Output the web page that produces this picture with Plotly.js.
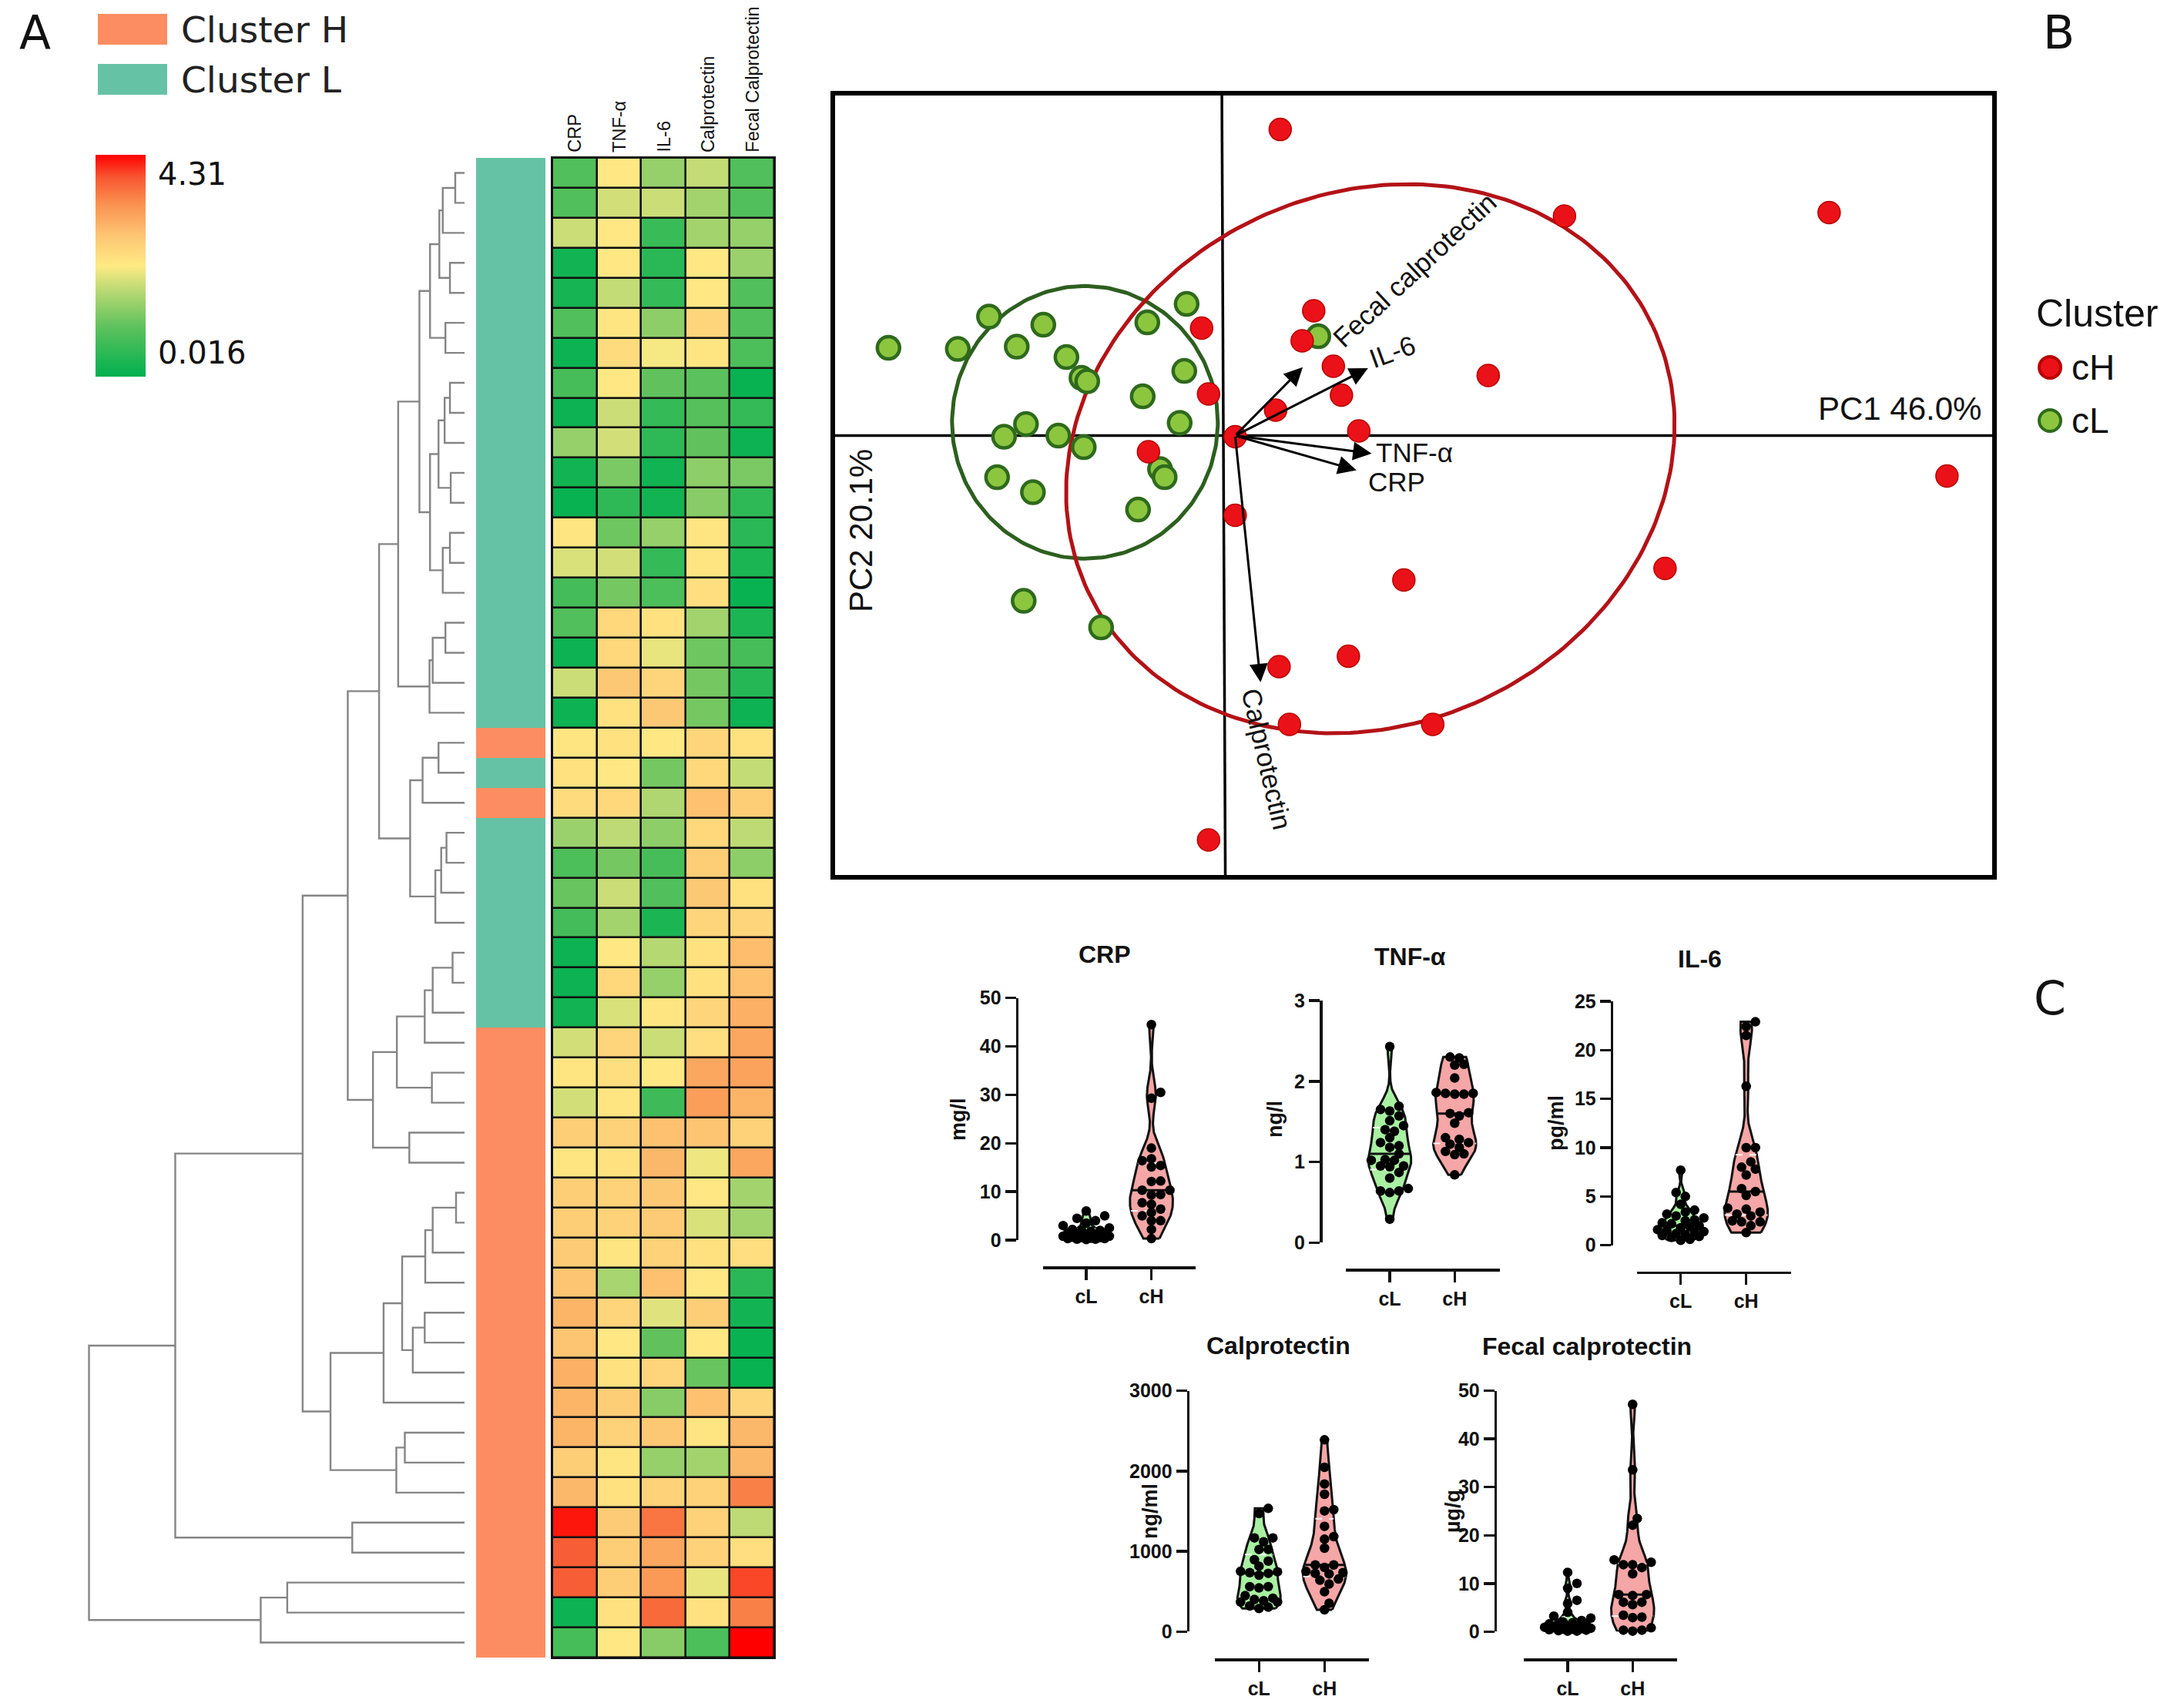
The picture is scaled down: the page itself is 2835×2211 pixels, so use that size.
<!DOCTYPE html>
<html><head><meta charset="utf-8">
<script src="https://cdn.plot.ly/plotly-3.0.1.min.js"></script>
<style>html,body{margin:0;padding:0;background:#fff}#chart{width:2835px;height:2211px}</style>
</head><body><div id="chart"></div>
<script>
// ================= DATA =================
// Heatmap (rows top→bottom, 50 patients)
const heatColumns = ['CRP','TNF-α','IL-6','Calprotectin','Fecal Calprotectin'];
const heatMin = 0.016, heatMax = 4.31;
const clusterSide = ['L','L','L','L','L','L','L','L','L','L','L','L','L','L','L','L','L','L','L','H',
 'L','H','L','L','L','L','L','L','L','H','H','H','H','H','H','H','H','H','H','H',
 'H','H','H','H','H','H','H','H','H','H'];
const heatCRP = [0.85,0.85,1.8,0.2,0.25,0.85,0.15,0.75,0.15,1.4, 0.2,0.1,2.25,1.9,0.7,0.85,0.15,1.8,0.15,2.25,
 2.3,2.4,1.45,0.8,1.05,0.7,0.15,0.15,0.2,1.85, 2.25,1.85,2.6,2.25,2.6,2.6,2.65,2.75,2.95,2.75,
 3.0,2.95,2.95,2.6,2.9,4.2,3.8,3.8,0.15,0.75];
const heatTNF = [2.2,1.85,2.2,2.2,1.75,2.25,2.4,2.2,1.8,1.85, 1.2,0.5,1.1,1.85,1.15,2.45,2.45,2.7,2.3,2.3,
 2.2,2.45,1.7,1.15,1.8,1.5,2.2,2.45,1.9,2.5, 2.35,2.25,2.55,2.3,2.55,2.55,2.25,1.55,2.5,2.2,
 2.3,2.6,2.55,2.25,2.3,2.65,2.6,2.6,2.3,2.2];
const heatIL6 = [1.4,1.8,0.6,0.45,0.55,1.35,2.1,1.0,0.55,0.5, 0.2,0.2,1.4,0.55,0.8,2.3,2.0,2.5,2.7,2.2,
 1.15,1.6,1.35,0.75,0.85,0.3,1.65,1.4,2.25,1.8, 2.2,0.65,2.8,2.9,2.7,2.65,2.55,2.8,1.95,1.0,
 2.5,1.3,2.7,1.4,2.55,3.6,3.1,3.25,3.7,1.3];
const heatCalp = [1.75,1.5,1.5,2.2,2.2,2.5,2.25,0.95,0.9,1.0, 1.35,1.3,2.25,2.25,2.35,1.5,1.1,1.15,1.15,2.5,
 2.45,2.8,2.45,2.6,2.7,2.5,2.3,2.3,2.5,2.35, 3.1,3.2,2.75,2.05,2.2,1.9,2.3,2.2,2.6,2.2,
 1.05,2.8,2.25,1.5,2.55,2.55,2.55,2.0,2.3,0.8];
const heatFecal = [0.85,0.85,1.4,1.45,0.85,0.85,0.8,0.1,0.55,0.15, 1.2,0.5,0.45,0.3,0.1,0.3,0.75,0.4,0.15,2.3,
 1.75,2.6,1.7,1.35,2.3,2.5,2.85,2.8,3.0,3.1, 3.15,2.95,2.55,3.1,1.5,1.5,2.35,0.45,0.2,0.1,
 0.1,2.5,2.9,2.9,3.5,1.7,2.35,3.95,3.5,4.31];

// Dendrogram linkage: [a, b, height]; positive = leaf row (1..50), negative = -(merge index + 1)
const linkage = [
 [1,2,35],[-1,3,82],[4,5,55],[-2,-3,95],[6,7,72],[-4,-5,130],[8,9,55],[-7,10,75],[11,12,52],[-8,-9,98],
 [13,14,55],[-11,15,82],[-10,-12,130],[-6,-13,170],[16,17,72],[-15,18,120],[-16,19,132],[-14,-17,250],
 [20,21,98],[-19,22,158],[23,24,68],[-21,25,88],[-22,26,110],[-20,-23,205],[-18,-24,322],
 [27,28,45],[-26,29,120],[-27,30,150],[31,32,123],[-28,-29,255],[33,34,208],[-30,-31,345],[-25,-32,440],
 [35,36,32],[-34,37,120],[-35,38,148],[39,40,150],[-37,41,195],[-36,-38,235],[-39,42,305],
 [43,44,225],[-41,45,257],[-40,-42,505],[-33,-43,610],[46,47,423],[-44,-45,1090],
 [48,49,668],[-47,50,768],[-46,-48,1415]];

// PCA scores
const pcaX_cL = [-2.90,-2.30,-2.03,-1.79,-1.56,-1.36,-1.23,-1.18,-0.66,-0.32,-0.34,-0.70,-0.38,-1.71,-1.90,-1.43,-1.21,-1.96,-1.65,-0.55,-0.51,-0.74,-1.73,-1.06,0.82];
const pcaY_cL = [0.76,0.75,1.03,0.77,0.96,0.68,0.50,0.47,0.98,1.14,0.56,0.34,0.11,0.10,-0.01,0.00,-0.10,-0.36,-0.49,-0.29,-0.36,-0.64,-1.43,-1.66,0.86];
const pcaX_cH = [0.49,2.95,0.78,0.68,-0.19,0.95,2.29,-0.13,1.02,0.45,1.17,0.10,-0.65,0.10,1.56,1.08,0.48,0.57,1.81,-0.13,5.24,6.26,3.82];
const pcaY_cH = [2.65,1.90,1.08,0.82,0.93,0.60,0.52,0.36,0.35,0.22,0.04,-0.01,-0.14,-0.69,-1.25,-1.91,-2.00,-2.50,-2.50,-3.50,1.93,-0.35,-1.15];
// Loadings (arrows)
const loadNames = ['CRP','TNF-α','IL-6','Calprotectin','Fecal calprotectin'];
const loadX = [1.15,1.28,1.25,0.32,0.685];
const loadY = [-0.30,-0.155,0.584,-2.135,0.592];
// Confidence ellipses: centre, semi-axes, angle (deg)
const ellipseL = {center:[-1.20,0.115], axes:[1.15,1.18], angle:0};
const ellipseH = {center:[1.27,-0.20], axes:[2.70,2.30], angle:25};

// Violin plot data
const crp_cL = [6.0,5.0,4.5,4.0,3.5,3.0,2.5,2.2,2.0,2.0,1.8,1.5,1.5,1.2,1.0,1.0,0.8,0.8,0.6,0.5,0.5,0.4,0.3,0.3,0.2,0.2,0.1];
const crp_cH = [44.5,30.5,29.3,19.0,16.8,16.4,15.4,15.1,12.2,12.1,10.3,10.3,9.3,9.4,7.7,7.4,6.4,5.7,5.0,4.0,4.0,2.2,0.3];
const tnf_cL = [2.43,1.65,1.69,1.63,1.57,1.51,1.45,1.38,1.40,1.30,1.24,1.18,1.20,1.10,1.03,1.02,1.02,0.95,0.94,0.95,0.87,0.80,0.67,0.64,0.64,0.62,0.29];
const tnf_cH = [2.29,2.30,2.20,2.21,2.04,1.85,1.86,1.84,1.85,1.84,1.61,1.60,1.57,1.48,1.30,1.28,1.24,1.22,1.18,1.13,1.09,1.10,0.84];
const il6_cL = [7.7,5.4,5.0,4.2,3.6,3.4,3.2,3.0,2.8,2.6,2.5,2.3,2.2,2.0,1.9,1.8,1.6,1.5,1.4,1.3,1.2,1.1,1.0,0.9,0.8,0.6,0.5];
const il6_cH = [22.9,22.4,21.5,16.3,10.0,10.0,8.55,8.0,7.2,7.8,5.8,5.5,5.1,3.7,3.8,3.2,3.0,3.4,2.4,2.5,2.4,2.0,1.3];
const calp_cL = [1535,1471,1167,1167,1119,1023,1023,895,879,815,751,745,735,726,703,560,560,544,448,416,400,384,368,368,320,304,288];
const calp_cH = [2389,2047,1839,1711,1503,1519,1311,1183,1151,1039,831,831,799,751,719,735,726,655,640,592,496,352,272];
const fecal_cL = [12.3,10.0,9.0,6.5,5.8,4.0,3.2,2.8,2.3,2.0,1.8,1.6,1.5,1.3,1.2,1.0,0.9,0.8,0.7,0.6,0.5,0.5,0.4,0.3,0.2,0.1,0.1];
const fecal_cH = [47.2,33.6,23.5,22.1,13.9,14.9,13.3,13.9,12.0,14.4,7.7,7.5,7.7,6.1,5.6,6.1,2.9,3.4,3.0,0.8,0.1,0.3,0.3];
const groupLabels = ['cL','cH'];

// ================= LAYOUT HELPERS =================
const W = 2835, H = 2211;
const PX = x => x / W, PY = y => 1 - y / H;
const traces = [], shapes = [], annotations = [];
const layout = {width:W, height:H, margin:{l:0,r:0,t:0,b:0}, paper_bgcolor:'#ffffff', plot_bgcolor:'rgba(0,0,0,0)',
  showlegend:false, shapes, annotations};
const hid = (domain, range, anchor) => ({domain, range, anchor, visible:false, fixedrange:true, showgrid:false, zeroline:false});
const SANS = 'Liberation Sans, Arial, sans-serif';
const DEJA = 'DejaVu Sans, Verdana, sans-serif';
// paper-referenced text helper (explicit anchors)
function label(x, y, text, font, extra){
  annotations.push(Object.assign({xref:'paper', yref:'paper', x:PX(x), y:PY(y), xanchor:'center', yanchor:'middle',
    showarrow:false, text, font}, extra || {}));
}

// ================= PANEL A =================
const rowY = clusterSide.map((_, i) => i + 1);
const rowDomain = [PY(2152), PY(205)];
layout.xaxis = hid([PX(112), PX(606)], [1425.2, -8.7], 'y');
layout.yaxis = hid(rowDomain, [50.5, 0.5], 'x');
layout.xaxis2 = hid([PX(618), PX(708)], [-0.5, 0.5], 'y2');
layout.yaxis2 = hid(rowDomain, [50.5, 0.5], 'x2');
layout.xaxis3 = hid([PX(717), PX(1005)], [0.5, 5.5], 'y3');
layout.yaxis3 = hid(rowDomain, [50.5, 0.5], 'x3');

// dendrogram
(function(){
  const nodeY = [], nodeH = [];
  const pos = id => id > 0 ? {y:id, h:0} : {y:nodeY[-id-1], h:nodeH[-id-1]};
  const xs = [], ys = [];
  linkage.forEach((m, k) => {
    const a = pos(m[0]), b = pos(m[1]), h = m[2];
    xs.push(a.h, h, h, b.h, null); ys.push(a.y, a.y, b.y, b.y, null);
    nodeY[k] = (a.y + b.y) / 2; nodeH[k] = h;
  });
  traces.push({type:'scatter', mode:'lines', x:xs, y:ys, xaxis:'x', yaxis:'y',
    line:{color:'#858585', width:2.4}, hoverinfo:'skip'});
})();

// cluster side bar
traces.push({type:'heatmap', xaxis:'x2', yaxis:'y2', x:[0], y:rowY,
  z: clusterSide.map(c => [c === 'H' ? 1 : 0]), zmin:0, zmax:1, showscale:false,
  colorscale:[[0,'#66c2a5'],[0.5,'#66c2a5'],[0.5,'#fc8d62'],[1,'#fc8d62']], hoverinfo:'skip'});

// main heatmap
const heatScale = [[0,'#00b050'],[0.22,'#5cc15c'],[0.38,'#b5d872'],[0.5,'#ffea84'],[0.64,'#fdc472'],
  [0.78,'#fa9050'],[0.9,'#f85530'],[1,'#ff0000']];
shapes.push({type:'rect', xref:'paper', yref:'paper', x0:PX(715), x1:PX(1007), y0:PY(2154), y1:PY(203),
  fillcolor:'#111', line:{width:0}, layer:'below'});
traces.push({type:'heatmap', xaxis:'x3', yaxis:'y3', x:[1,2,3,4,5], y:rowY,
  z: rowY.map((_, i) => [heatCRP[i], heatTNF[i], heatIL6[i], heatCalp[i], heatFecal[i]]),
  zmin:heatMin, zmax:heatMax, colorscale:heatScale, xgap:2.6, ygap:2.6, hoverinfo:'skip',
  colorbar:{x:PX(124), xanchor:'left', y:PY(201.5), yanchor:'top', len:288, lenmode:'pixels',
    thickness:65, thicknessmode:'pixels', outlinewidth:0, showticklabels:false, ticks:'', xpad:0, ypad:0}});
label(203, 226, String(heatMax), {family:DEJA, size:40, color:'#111'}, {xanchor:'left'});
label(203, 458, String(heatMin), {family:DEJA, size:40, color:'#111'}, {xanchor:'left'});
heatColumns.forEach((c, i) => label(717 + 57.6 * (i + 0.5), 200, c, {family:SANS, size:23.5, color:'#111'},
  {yanchor:'bottom', textangle:-90}));

// cluster legend
[['Cluster H','#fc8d62',18],['Cluster L','#66c2a5',83]].forEach(([t, col, y0]) => {
  shapes.push({type:'rect', xref:'paper', yref:'paper', x0:PX(127), x1:PX(217), y0:PY(y0 + 40), y1:PY(y0), fillcolor:col, line:{width:0}});
  label(233, y0 + 20, t, {family:DEJA, size:47, color:'#222'}, {xanchor:'left'});
});

// ================= PANEL B (PCA) =================
layout.xaxis4 = hid([PX(1081), PX(2589)], [-3.382, 6.671], 'y4');
layout.yaxis4 = hid([PY(1139), PY(121)], [-3.823, 2.964], 'x4');
shapes.push({type:'line', xref:'x4', yref:'y4', x0:-3.382, x1:6.671, y0:0, y1:0, line:{color:'#000', width:3.5}, layer:'below'});
shapes.push({type:'line', xref:'x4', yref:'y4', x0:-0.015, x1:0.015, y0:2.964, y1:-3.823, line:{color:'#000', width:3.5}, layer:'below'});
shapes.push({type:'rect', xref:'paper', yref:'paper', x0:PX(1081), x1:PX(2589), y0:PY(1139), y1:PY(121), line:{color:'#000', width:6}});
function ellipsePath(e){
  const xs = [], ys = [], t = e.angle * Math.PI / 180;
  for (let i = 0; i <= 240; i++) {
    const p = 2 * Math.PI * i / 240, u = e.axes[0] * Math.cos(p), v = e.axes[1] * Math.sin(p);
    xs.push(e.center[0] + u * Math.cos(t) - v * Math.sin(t)); ys.push(e.center[1] + u * Math.sin(t) + v * Math.cos(t));
  }
  return {xs, ys};
}
const eL = ellipsePath(ellipseL), eH = ellipsePath(ellipseH);
traces.push({type:'scatter', mode:'lines', x:eL.xs, y:eL.ys, xaxis:'x4', yaxis:'y4', line:{color:'#2d5f1f', width:5}, hoverinfo:'skip'});
traces.push({type:'scatter', mode:'lines', x:eH.xs, y:eH.ys, xaxis:'x4', yaxis:'y4', line:{color:'#b31217', width:5}, hoverinfo:'skip'});
traces.push({type:'scatter', mode:'markers', x:pcaX_cL, y:pcaY_cL, xaxis:'x4', yaxis:'y4', cliponaxis:false,
  marker:{size:29, color:'#8cc63f', line:{color:'#2e6a1c', width:4.5}}, hoverinfo:'skip'});
traces.push({type:'scatter', mode:'markers', x:pcaX_cH, y:pcaY_cH, xaxis:'x4', yaxis:'y4', cliponaxis:false,
  marker:{size:29, color:'#ea1218', line:{color:'#b80000', width:1.5}}, hoverinfo:'skip'});
loadX.forEach((x, i) => annotations.push({xref:'x4', yref:'y4', axref:'x4', ayref:'y4', x, y:loadY[i], ax:0.1, ay:0,
  showarrow:true, arrowhead:2, arrowsize:1.6, arrowwidth:3, arrowcolor:'#000', text:''}));
const loadLabelPos = [[1.50,-0.40,0],[1.65,-0.146,0],[1.46,0.73,-20],[0.374,-2.80,77],[1.65,1.435,-43]];
loadNames.forEach((n, i) => annotations.push({xref:'x4', yref:'y4', x:loadLabelPos[i][0], y:loadLabelPos[i][1],
  xanchor:'center', yanchor:'middle', textangle:loadLabelPos[i][2], showarrow:false, text:n, font:{family:SANS, size:35, color:'#111'}}));
label(2466, 530, 'PC1 46.0%', {family:SANS, size:42, color:'#111'});
label(1117, 689, 'PC2 20.1%', {family:SANS, size:42, color:'#111'}, {textangle:-90});
label(2641, 407, 'Cluster', {family:SANS, size:50, color:'#111'}, {xanchor:'left'});
[['cH','#ea1218','#b80000',477],['cL','#8cc63f','#2e6a1c',546]].forEach(([t, f, l, y]) => {
  shapes.push({type:'circle', xref:'paper', yref:'paper', x0:PX(2647), x1:PX(2675), y0:PY(y + 14), y1:PY(y - 14), fillcolor:f, line:{color:l, width:4}});
  label(2687, y, t, {family:SANS, size:46, color:'#111'}, {xanchor:'left'});
});

// ================= PANEL C (violins) =================
function quantile(a, q){ const s = [...a].sort((x, y) => x - y), p = (s.length - 1) * q, lo = Math.floor(p), hi = Math.ceil(p); return s[lo] + (s[hi] - s[lo]) * (p - lo); }
function bandwidth(v){
  const m = v.reduce((s, x) => s + x, 0) / v.length;
  const sd = Math.sqrt(v.reduce((s, x) => s + (x - m) * (x - m), 0) / (v.length - 1));
  const iqr = quantile(v, 0.75) - quantile(v, 0.25);
  return 0.72 * 1.06 * Math.min(sd, iqr > 0 ? iqr / 1.34 : sd) * Math.pow(v.length, -0.2);
}
function dens(v, bw, y){ let s = 0; v.forEach(x => { const z = (y - x) / bw; s += Math.exp(-0.5 * z * z); }); return s; }
function swarm(v, pyu, pxu, d, cap){
  const idx = v.map((_, i) => i).sort((a, b) => v[a] - v[b]), placed = [], off = new Array(v.length).fill(0);
  for (const i of idx) {
    const y = v[i] * pyu; let best = null, bestD = -1;
    for (let k = 0; k < 40; k++) {
      const o = k === 0 ? 0 : (k % 2 ? 1 : -1) * Math.ceil(k / 2) * d * 0.5;
      if (Math.abs(o) > cap) continue;
      let mn = Infinity;
      placed.forEach(p => { const dd = Math.hypot(p.x - o, p.y - y); if (dd < mn) mn = dd; });
      if (mn >= d * 0.85) { best = o; break; }
      if (mn > bestD) { bestD = mn; best = o; }
    }
    placed.push({x:best, y}); off[i] = best / pxu;
  }
  return off;
}
const violinPanels = [
  {title:'CRP', unit:'mg/l', data:[crp_cL, crp_cH], ymax:50, dtick:10, yAxisX:1319.6, yTop:1295.7, yBot:1610, xL:1353.6, xR:1551.8, cLpx:1410, cHpx:1494.6, xLineY:1645, tx:1434, ty:1239, lx:1244, ly:1453},
  {title:'TNF-α', unit:'ng/l', data:[tnf_cL, tnf_cH], ymax:3, dtick:1, yAxisX:1714, yTop:1299, yBot:1613.3, xL:1746.7, xR:1946.7, cLpx:1804, cHpx:1888.3, xLineY:1648.3, tx:1830, ty:1241.7, lx:1655, ly:1453},
  {title:'IL-6', unit:'pg/ml', data:[il6_cL, il6_cH], ymax:25, dtick:5, yAxisX:2091.7, yTop:1300, yBot:1616.7, xL:2125, xR:2325, cLpx:2181.7, cHpx:2266.7, xLineY:1651.7, tx:2206.7, ty:1245, lx:2020, ly:1458},
  {title:'Calprotectin', unit:'ng/ml', data:[calp_cL, calp_cH], ymax:3000, dtick:1000, yAxisX:1541.7, yTop:1805.7, yBot:2118.3, xL:1577.3, xR:1777.3, cLpx:1634.3, cHpx:1719.3, xLineY:2154.3, tx:1659.3, ty:1747.3, lx:1493, ly:1962},
  {title:'Fecal calprotectin', unit:'µg/g', data:[fecal_cL, fecal_cH], ymax:50, dtick:10, yAxisX:1940.7, yTop:1805.7, yBot:2118.3, xL:1978.3, xR:2176.7, cLpx:2035, cHpx:2119.3, xLineY:2154.3, tx:2060, ty:1748, lx:1886, ly:1962}
];
const violinFill = ['#a9f0a2','#f5a6a6'];
const tickFont = {family:SANS, size:25, color:'#111', weight:700};
violinPanels.forEach((p, k) => {
  const n = k + 5, xa = 'x' + n, ya = 'y' + n, sp = p.cHpx - p.cLpx;
  layout['xaxis' + n] = {domain:[PX(p.xL), PX(p.xR)], range:[(p.xL - p.cLpx) / sp, (p.xR - p.cLpx) / sp], anchor:'free', position:PY(p.xLineY),
    showline:true, linewidth:3.5, linecolor:'#111', ticks:'outside', ticklen:14, tickwidth:3.5, tickcolor:'#111',
    tickvals:[0, 1], ticktext:groupLabels, tickfont:tickFont, showgrid:false, zeroline:false, fixedrange:true};
  layout['yaxis' + n] = {domain:[PY(p.yBot), PY(p.yTop)], range:[0, p.ymax], anchor:'free', position:PX(p.yAxisX),
    showline:true, linewidth:3.5, linecolor:'#111', ticks:'outside', ticklen:14, tickwidth:3.5, tickcolor:'#111',
    tick0:0, dtick:p.dtick, tickfont:tickFont, showgrid:false, zeroline:false, fixedrange:true};
  const pyu = (p.yBot - p.yTop) / p.ymax;
  p.data.forEach((v, g) => {
    const bw = bandwidth(v), lo = Math.min(...v), hi = Math.max(...v), N = 180, ys = [], ds = [];
    for (let i = 0; i <= N; i++) { const y = lo + (hi - lo) * i / N; ys.push(y); ds.push(dens(v, bw, y)); }
    const mx = Math.max(...ds), half = 0.33, wAt = y => half * dens(v, bw, y) / mx;
    const X = ys.map((y, i) => g + half * ds[i] / mx).concat(ys.slice().reverse().map((y, i) => g - half * ds[N - i] / mx));
    const Y = ys.concat(ys.slice().reverse());
    X.push(X[0]); Y.push(Y[0]);
    traces.push({type:'scatter', mode:'lines', x:X, y:Y, xaxis:xa, yaxis:ya, fill:'toself', fillcolor:violinFill[g],
      line:{color:'#111', width:3}, hoverinfo:'skip'});
    [0.25, 0.75].forEach(q => { const y = quantile(v, q), w = wAt(y);
      traces.push({type:'scatter', mode:'lines', x:[g - w, g + w], y:[y, y], xaxis:xa, yaxis:ya,
        line:{color:'rgba(255,255,255,0.9)', width:2, dash:'dash'}, hoverinfo:'skip'}); });
    const med = quantile(v, 0.5), wm = wAt(med);
    traces.push({type:'scatter', mode:'lines', x:[g - wm, g + wm], y:[med, med], xaxis:xa, yaxis:ya,
      line:{color:'#111', width:3}, hoverinfo:'skip'});
    const off = swarm(v, pyu, sp, 12, 34);
    traces.push({type:'scatter', mode:'markers', x:v.map((_, i) => g + off[i]), y:v, xaxis:xa, yaxis:ya, cliponaxis:false,
      marker:{size:12.5, color:'#000'}, hoverinfo:'skip'});
  });
  label(p.tx, p.ty, '<b>' + p.title + '</b>', {family:SANS, size:32, color:'#111'});
  label(p.lx, p.ly, '<b>' + p.unit + '</b>', {family:SANS, size:27, color:'#111'}, {textangle:-90});
});

// panel letters
[['A',45,42],['B',2672,42],['C',2661,1296]].forEach(([t, x, y]) => label(x, y, t, {family:DEJA, size:60, color:'#111'}));

Plotly.newPlot('chart', traces, layout, {staticPlot:true, displayModeBar:false});
</script></body></html>
